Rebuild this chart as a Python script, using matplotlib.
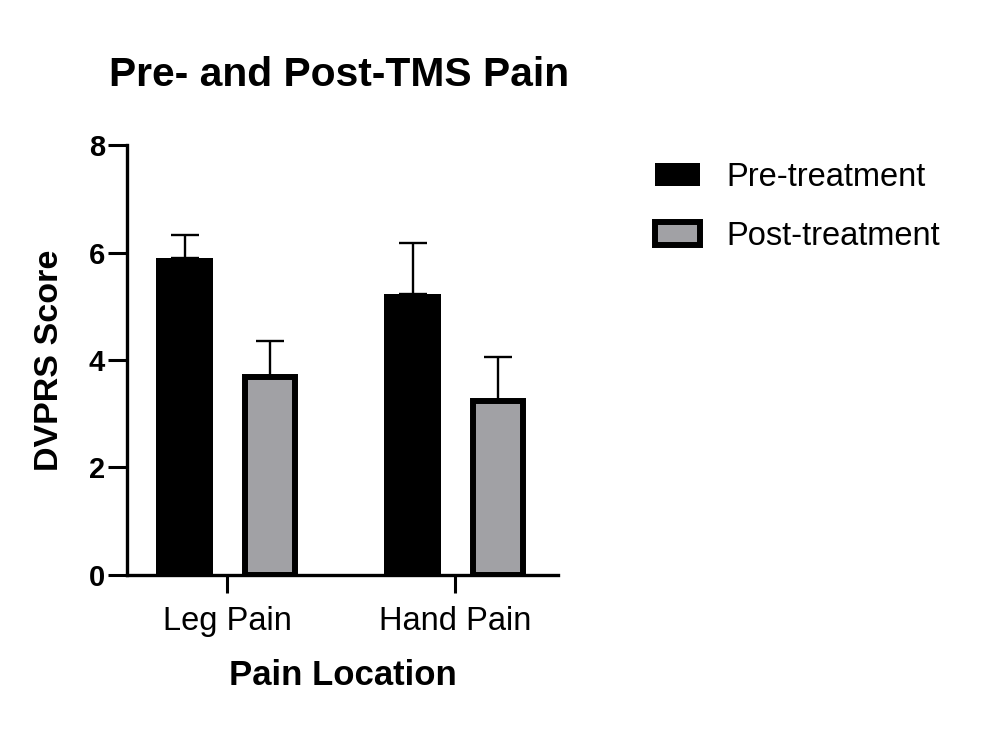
import numpy as np
import matplotlib.pyplot as plt

plt.rcParams['font.family'] = ['Liberation Sans', 'DejaVu Sans']

# values
locations = ['Leg Pain', 'Hand Pain']
pre_mean = [5.90, 5.23]
pre_err = [0.42, 0.94]
post_mean = [3.68, 3.24]
post_err = [0.67, 0.82]
series_names = ['Pre-treatment', 'Post-treatment']


def plot_bars():
    fig = plt.figure(figsize=(9.86, 7.4), dpi=100)
    ax = fig.add_axes([0.1288, 0.223, 0.437, 0.581])

    x = np.arange(len(locations))
    offset = 0.187

    ax.bar(x - offset, pre_mean, 0.25, color='black', edgecolor='black',
           linewidth=0, label=series_names[0], zorder=2)
    ax.errorbar(x - offset, pre_mean, yerr=[np.zeros(2), pre_err], fmt='none',
                ecolor='black', elinewidth=1.7, capsize=10, capthick=1.7, zorder=1)

    ax.bar(x + offset, post_mean, 0.222, color='#a1a1a5', edgecolor='black',
           linewidth=4.3, label=series_names[1], zorder=2)
    ax.errorbar(x + offset, post_mean, yerr=[np.zeros(2), post_err], fmt='none',
                ecolor='black', elinewidth=1.7, capsize=10, capthick=1.7, zorder=1)

    ax.set_xlim(-0.44, 1.45)
    ax.set_ylim(0, 8)
    ax.set_yticks([0, 2, 4, 6, 8])
    ax.set_xticks(x)
    ax.set_xticklabels(locations)

    for side in ['top', 'right']:
        ax.spines[side].set_visible(False)
    for side in ['left', 'bottom']:
        ax.spines[side].set_linewidth(2.4)

    ax.tick_params(axis='y', length=13.7, width=2.2, labelsize=21, pad=2)
    ax.tick_params(axis='x', length=13, width=2.2, labelsize=23.5, pad=9)
    for lbl in ax.get_yticklabels():
        lbl.set_fontweight('bold')

    ax.set_xlabel('Pain Location', fontsize=25, fontweight='bold', labelpad=16)
    ax.set_ylabel('DVPRS Score', fontsize=24.5, fontweight='bold', labelpad=17)
    fig.text(0.111, 0.898, 'Pre- and Post-TMS Pain', fontsize=29.3,
             fontweight='bold', ha='left', va='center')

    fig.legend(loc='upper left', bbox_to_anchor=(655 / 986, 1 - 162 / 740),
               frameon=False, fontsize=23.5, handlelength=1.38, handleheight=0.74,
               labelspacing=0.85, handletextpad=0.8, borderpad=0, borderaxespad=0)

    plt.savefig('out.png', dpi=100)


if __name__ == "__main__":
    plot_bars()
